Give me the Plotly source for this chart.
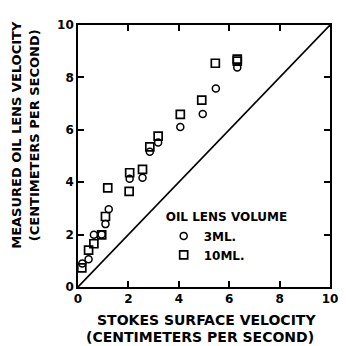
import plotly.graph_objects as go

# 3 mL oil lens (circles)
x_3ml = [0.17, 0.42, 0.63, 0.94, 1.09, 1.22, 2.05, 2.56, 2.85, 3.18, 4.06, 4.95, 5.47, 6.32]
y_3ml = [0.90, 1.06, 1.99, 2.00, 2.40, 2.97, 4.13, 4.17, 5.16, 5.52, 6.11, 6.60, 7.58, 8.38]
# 10 mL oil lens (squares)
x_10ml = [0.15, 0.42, 0.63, 0.94, 1.09, 1.18, 2.03, 2.05, 2.56, 2.85, 3.18, 4.06, 4.91, 5.45, 6.32, 6.32]
y_10ml = [0.73, 1.41, 1.65, 1.99, 2.69, 3.78, 3.65, 4.36, 4.49, 5.35, 5.76, 6.59, 7.13, 8.54, 8.62, 8.70]

diag_x = [0, 10]
diag_y = [0, 10]
tick_vals = [0, 2, 4, 6, 8, 10]
tick_text = ["0", "2", "4", "6", "8", "10"]

FONT = "DejaVu Sans"

fig = go.Figure()
fig.add_trace(go.Scatter(x=diag_x, y=diag_y, mode="lines",
                         line=dict(color="black", width=1.6), showlegend=False, hoverinfo="skip"))
fig.add_trace(go.Scatter(x=x_3ml, y=y_3ml, mode="markers", name="3ML.",
                         marker=dict(symbol="circle-open", size=7, color="black",
                                     line=dict(width=1.5, color="black"))))
fig.add_trace(go.Scatter(x=x_10ml, y=y_10ml, mode="markers", name="10ML.",
                         marker=dict(symbol="square-open", size=8, color="black",
                                     line=dict(width=1.7, color="black"))))

axis_common = dict(range=[0, 10], tickvals=tick_vals, ticktext=tick_text,
                   ticks="inside", ticklen=6, tickwidth=1.5, tickcolor="black",
                   showline=True, linecolor="black", linewidth=1.6, mirror="ticks",
                   showgrid=False, zeroline=False,
                   tickfont=dict(family=FONT, size=12, color="black", weight="bold"))

fig.update_layout(
    width=346, height=346,
    margin=dict(l=78, r=8, t=25, b=59),
    plot_bgcolor="white", paper_bgcolor="white",
    font=dict(family=FONT, color="black"),
    xaxis=dict(**axis_common),
    yaxis=dict(**axis_common),
    legend=dict(x=0.34, y=0.31, xanchor="left", yanchor="top",
                bgcolor="rgba(0,0,0,0)",
                title=dict(text="OIL LENS VOLUME", font=dict(family=FONT, size=12, color="black", weight="bold")),
                font=dict(family=FONT, size=12, color="black", weight="bold"),
                tracegroupgap=0, itemwidth=30),
    annotations=[
        dict(text="STOKES SURFACE VELOCITY", xref="paper", yref="paper",
             x=0.51, y=-0.125, xanchor="center", yanchor="middle", showarrow=False,
             font=dict(family=FONT, size=14, color="black", weight="bold")),
        dict(text="(CENTIMETERS PER SECOND)", xref="paper", yref="paper",
             x=0.485, y=-0.19, xanchor="center", yanchor="middle", showarrow=False,
             font=dict(family=FONT, size=14, color="black", weight="bold")),
        dict(text="MEASURED OIL LENS VELOCITY", xref="paper", yref="paper",
             x=-0.247, y=0.58, xanchor="center", yanchor="middle", showarrow=False,
             textangle=-90, font=dict(family=FONT, size=13, color="black", weight="bold")),
        dict(text="(CENTIMETERS PER SECOND)", xref="paper", yref="paper",
             x=-0.174, y=0.58, xanchor="center", yanchor="middle", showarrow=False,
             textangle=-90, font=dict(family=FONT, size=13, color="black", weight="bold")),
    ],
)

fig.write_html("out.html")
